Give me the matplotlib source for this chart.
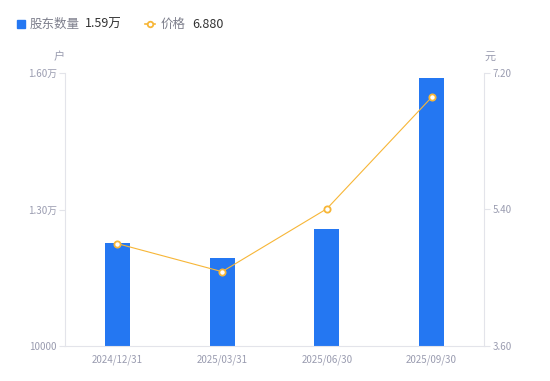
import matplotlib.pyplot as plt
from matplotlib.lines import Line2D
from matplotlib.ticker import FixedLocator

plt.rcParams['font.family'] = ['Noto Sans CJK SC', 'DejaVu Sans']

# data
dates = ["2024/12/31", "2025/03/31", "2025/06/30", "2025/09/30"]
holders = [12260, 11930, 12570, 15890]
price = [4.95, 4.58, 5.41, 6.88]

left_ticks = [10000, 13000, 16000]
left_labels = ["10000", "1.30万", "1.60万"]
right_ticks = [3.60, 5.40, 7.20]

bar_color = "#2477f2"
line_color = "#f7b637"
tick_color = "#9a9cb0"
axis_color = "#e3e4ea"

fig = plt.figure(figsize=(5.5, 3.81), dpi=100)
ax = fig.add_axes([65 / 550, 1 - 346 / 381, 419 / 550, 273 / 381])

x = list(range(len(dates)))
ax.bar(x, holders, width=0.24, color=bar_color, zorder=2)
ax.set_xlim(-0.5, len(dates) - 0.5)
ax.set_ylim(10000, 16000)
ax.yaxis.set_major_locator(FixedLocator(left_ticks))
ax.set_yticklabels(left_labels)
ax.set_xticks(x)
ax.set_xticklabels(dates)

ax2 = ax.twinx()
ax2.plot(x, price, color=line_color, linewidth=0.8, marker="o", markersize=4.5,
         markerfacecolor="white", markeredgecolor=line_color, markeredgewidth=1.3, zorder=3)
ax2.set_ylim(3.6, 7.2)
ax2.yaxis.set_major_locator(FixedLocator(right_ticks))
ax2.set_yticklabels([f"{v:.2f}" for v in right_ticks])

for a in (ax, ax2):
    for s in a.spines.values():
        s.set_visible(False)
    a.tick_params(axis="y", colors=axis_color, labelcolor=tick_color, labelsize=7,
                  length=4, width=0.8, pad=2)
    a.tick_params(axis="x", length=0, labelcolor=tick_color, labelsize=7, pad=6)

ax.spines["left"].set_visible(True)
ax.spines["left"].set_color(axis_color)
ax.spines["bottom"].set_visible(True)
ax.spines["bottom"].set_color(axis_color)
ax2.spines["right"].set_visible(True)
ax2.spines["right"].set_color(axis_color)

# axis units
fig.text(59 / 550, 1 - 57 / 381, "户", fontsize=8, color=tick_color, ha="center", va="center")
fig.text(490 / 550, 1 - 57 / 381, "元", fontsize=8, color=tick_color, ha="center", va="center")

# legend
ly = 1 - 24 / 381
fig.add_artist(Line2D([21 / 550], [ly], marker="s", markersize=6, color=bar_color,
                      linestyle="none", transform=fig.transFigure))
fig.text(30 / 550, ly, "股东数量", fontsize=9, color="#7d7f8c", va="center")
fig.text(85 / 550, ly, "1.59万", fontsize=9, color="#333333", va="center")
fig.add_artist(Line2D([145 / 550, 155 / 550], [ly, ly], color=line_color, linewidth=1.2,
                      transform=fig.transFigure))
fig.add_artist(Line2D([150 / 550], [ly], marker="o", markersize=4, markerfacecolor="white",
                      markeredgecolor=line_color, markeredgewidth=1.3, linestyle="none",
                      transform=fig.transFigure))
fig.text(161 / 550, ly, "价格", fontsize=9, color="#7d7f8c", va="center")
fig.text(192 / 550, ly, "6.880", fontsize=9, color="#333333", va="center")

fig.savefig("out.png", dpi=100)
